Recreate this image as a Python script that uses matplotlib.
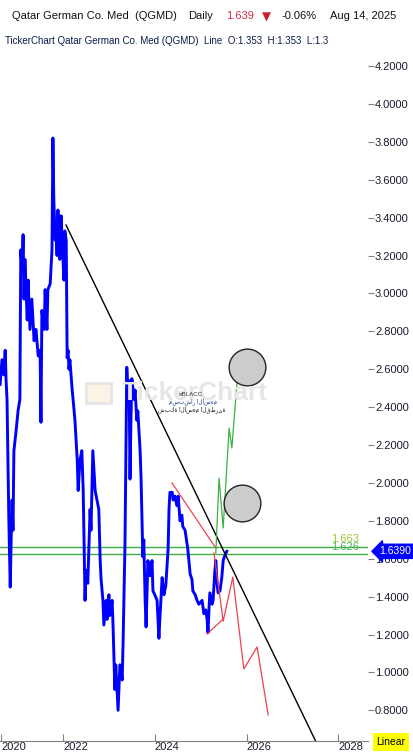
import matplotlib
matplotlib.use("Agg")
import matplotlib.pyplot as plt
from matplotlib.patches import FancyBboxPatch

plt.rcParams['font.family'] = ['Liberation Sans', 'DejaVu Sans']

# ---- price series (fractional year, close) ----
blue_t = [2020.63, 2020.67, 2020.71, 2020.74, 2020.76, 2020.78, 2020.80, 2020.82, 2020.85, 2020.87,
          2020.89, 2020.91, 2020.93, 2020.98, 2021.02, 2021.06, 2021.08, 2021.11, 2021.13, 2021.15,
          2021.17, 2021.22, 2021.24, 2021.28, 2021.32, 2021.37, 2021.41, 2021.46, 2021.50, 2021.52,
          2021.54, 2021.59, 2021.61, 2021.65, 2021.67, 2021.72, 2021.76, 2021.78, 2021.80, 2021.83,
          2021.85, 2021.87, 2021.89, 2021.91, 2021.93, 2021.96, 2021.98, 2022.02, 2022.04, 2022.07,
          2022.09, 2022.11, 2022.13, 2022.15, 2022.20, 2022.22, 2022.26, 2022.31, 2022.33, 2022.37,
          2022.41, 2022.44, 2022.48, 2022.50, 2022.54, 2022.59, 2022.61, 2022.65, 2022.70, 2022.74,
          2022.78, 2022.81, 2022.83, 2022.87, 2022.89, 2022.94, 2022.96, 2023.00, 2023.02, 2023.07,
          2023.09, 2023.13, 2023.15, 2023.20, 2023.24, 2023.29, 2023.31, 2023.35, 2023.39, 2023.42,
          2023.44, 2023.46, 2023.48, 2023.50, 2023.55, 2023.57, 2023.61, 2023.63, 2023.68, 2023.70,
          2023.74, 2023.76, 2023.79, 2023.81, 2023.85, 2023.90, 2023.94, 2023.96, 2024.00, 2024.05,
          2024.09, 2024.11, 2024.16, 2024.20, 2024.24, 2024.29, 2024.31, 2024.33, 2024.38, 2024.40,
          2024.44, 2024.48, 2024.51, 2024.55, 2024.59, 2024.61, 2024.66, 2024.72, 2024.77, 2024.81,
          2024.83, 2024.88, 2024.92, 2024.96, 2025.03, 2025.07, 2025.11, 2025.14, 2025.16, 2025.18,
          2025.20, 2025.25, 2025.27, 2025.31, 2025.33, 2025.36, 2025.38, 2025.42, 2025.46, 2025.49,
          2025.53, 2025.57]
blue_v = [2.52, 2.65, 2.57, 2.70, 2.54, 2.44, 2.12, 1.80, 1.45, 1.70,
          1.91, 1.75, 2.17, 2.28, 2.38, 2.44, 3.23, 3.12, 3.31, 2.97,
          3.18, 2.86, 3.07, 2.81, 2.97, 2.75, 2.81, 2.67, 2.70, 2.32,
          2.91, 2.81, 3.02, 2.81, 3.02, 3.05, 3.23, 3.82, 3.49, 3.28,
          3.33, 3.20, 3.44, 3.25, 3.18, 3.41, 3.28, 3.07, 3.33, 3.28,
          2.66, 2.70, 2.60, 2.65, 2.49, 2.44, 2.33, 2.12, 1.96, 2.12,
          2.17, 1.96, 1.38, 1.54, 1.47, 1.86, 1.75, 2.17, 1.96, 1.91,
          1.86, 1.59, 1.49, 1.38, 1.25, 1.38, 1.28, 1.41, 1.30, 1.38,
          1.25, 0.91, 1.04, 0.80, 1.04, 0.96, 1.17, 1.67, 2.61, 2.44,
          2.54, 2.02, 2.33, 2.55, 2.44, 2.49, 2.33, 2.38, 2.17, 2.03,
          1.61, 1.70, 1.38, 1.24, 1.59, 1.51, 1.59, 1.43, 1.41, 1.38,
          1.18, 1.28, 1.50, 1.41, 1.46, 1.65, 1.86, 1.95, 1.95, 1.91,
          1.93, 1.88, 1.93, 1.80, 1.83, 1.77, 1.75, 1.65, 1.52, 1.49,
          1.43, 1.41, 1.38, 1.36, 1.38, 1.31, 1.33, 1.28, 1.21, 1.33,
          1.42, 1.36, 1.38, 1.54, 1.59, 1.46, 1.42, 1.43, 1.50, 1.59,
          1.62, 1.639]

# ---- drawings ----
trend_t = [2022.065, 2027.60]
trend_v = [3.361, 0.59]

red_a_t = [2024.375, 2025.33]
red_a_v = [2.00, 1.656]
red_b_t = [2025.29, 2025.49, 2025.70, 2025.94, 2026.23, 2026.47]
red_b_v = [1.63, 1.27, 1.503, 1.018, 1.134, 0.775]
red_c_t = [2025.14, 2025.49]
red_c_v = [1.202, 1.282]

green_t = [2025.33, 2025.40, 2025.49, 2025.62, 2025.68, 2025.81]
green_v = [1.63, 2.025, 1.762, 2.29, 2.184, 2.59]

circle_t = [2026.01, 2025.90]
circle_v = [2.611, 1.894]

levels = [1.663, 1.626]
level_colors = ['#9dc43a', '#4fb35c']
last_price = 1.639

yticks = [0.8, 1.0, 1.2, 1.4, 1.6, 1.8, 2.0, 2.2, 2.4, 2.6, 2.8, 3.0, 3.2, 3.4, 3.6, 3.8, 4.0, 4.2]
xticks = [2020.65, 2022, 2024, 2026, 2028]
xlabels = ['2020', '2022', '2024', '2026', '2028']

W, H = 414, 754
fig = plt.figure(figsize=(W / 100, H / 100), dpi=100)
ax = fig.add_axes([0, 13 / H, 368 / W, (741 - 52) / H])

ax.plot(blue_t, blue_v, color='#0000ff', lw=2.1, zorder=3)
ax.plot(trend_t, trend_v, color='black', lw=1.0, zorder=4)
for tt, vv in [(red_a_t, red_a_v), (red_b_t, red_b_v), (red_c_t, red_c_v)]:
    ax.plot(tt, vv, color='#f04050', lw=0.9, zorder=4)
ax.plot(green_t, green_v, color='#3cb043', lw=0.9, zorder=4)
ax.scatter(circle_t, circle_v, s=700, facecolor='#cccccc', edgecolor='#222222', lw=1.0, zorder=5)

for lv in levels:
    ax.axhline(lv, color='#3cb043', lw=1.0, zorder=2)
ax.text(2028.45, levels[0] + 0.012, '1.663', color=level_colors[0], fontsize=8, ha='right', va='bottom', zorder=6)
ax.text(2028.45, levels[1] + 0.010, '1.626', color=level_colors[1], fontsize=8, ha='right', va='bottom', zorder=6)

ax.set_xlim(2020.627, 2028.646)
ax.set_ylim(0.638, 4.274)

ax.yaxis.tick_right()
ax.set_yticks(yticks)
ax.set_yticklabels(['%.4f' % v for v in yticks])
ax.tick_params(axis='y', direction='out', length=4, width=0.8, color='#808080',
               labelsize=8, labelcolor='#1a1a2e', pad=1)
ax.set_xticks(xticks)
ax.set_xticklabels(xlabels)
ax.tick_params(axis='x', direction='in', length=5, width=0.8, color='#808080',
               labelsize=8, labelcolor='#1a1a2e', pad=1)
for lbl in ax.get_xticklabels():
    lbl.set_ha('left')
for s in ['top', 'left', 'right']:
    ax.spines[s].set_visible(False)
ax.spines['bottom'].set_color('#808080')

# price tag on the axis
ax.annotate('1.6390', xy=(1.0, last_price), xycoords=('axes fraction', 'data'),
            xytext=(8.3, 0), textcoords='offset points', color='white', fontsize=7.5,
            va='center', ha='left', zorder=10, annotation_clip=False,
            bbox=dict(boxstyle='larrow,pad=0.2', fc='#0000ff', ec='#0000ff'))

# watermark
fig.text(195 / W, 1 - 393 / H, 'TickerChart', fontsize=19, fontweight='bold',
         color='#e6e6e6', ha='center', va='center', zorder=0)
fig.patches.append(FancyBboxPatch((86 / W, 1 - 403 / H), 25 / W, 20 / H,
                                  boxstyle='square,pad=0', fc='#fbf3e6', ec='#e6e6e6',
                                  lw=2, transform=fig.transFigure, zorder=0))
fig.text(191 / W, 1 - 395 / H, 'eBLACC', fontsize=4.5, color='#333333', ha='center', va='center')
fig.text(193 / W, 1 - 402.5 / H, 'مستشار الأسهم', fontsize=4, color='#1b3a8a',
         ha='center', va='center', family=['DejaVu Sans'])
fig.text(192 / W, 1 - 410 / H, 'شبكة الأسهم القطرية', fontsize=4, color='#111111',
         ha='center', va='center', family=['DejaVu Sans'])

# header
fig.text(12 / W, 1 - 16 / H, 'Qatar German Co. Med  (QGMD)', fontsize=8, color='#111111', va='center')
fig.text(188 / W, 1 - 16 / H, 'Daily', fontsize=8, color='#111111', va='center')
fig.text(226 / W, 1 - 16 / H, '1.639', fontsize=8, color='#c8304a', va='center')
fig.text(262 / W, 1 - 17 / H, '▼', fontsize=8.5, color='#c8202a', va='center', family=['DejaVu Sans'])
fig.text(282 / W, 1 - 16 / H, '-0.06%', fontsize=8, color='#111111', va='center')
fig.text(330 / W, 1 - 16 / H, 'Aug 14, 2025', fontsize=8, color='#111111', va='center')
fig.text(5 / W, 1 - 41 / H, 'TickerChart Qatar German Co. Med (QGMD)  Line  O:1.353  H:1.353  L:1.3',
         fontsize=7, color='#0b1a4a', va='center')

# scale mode box
fig.text(391 / W, 1 - 742 / H, 'Linear', fontsize=7.5, color='black', ha='center', va='center',
         bbox=dict(boxstyle='square,pad=0.35', fc='#ffff00', ec='none'))

fig.savefig('out.png', dpi=100)
